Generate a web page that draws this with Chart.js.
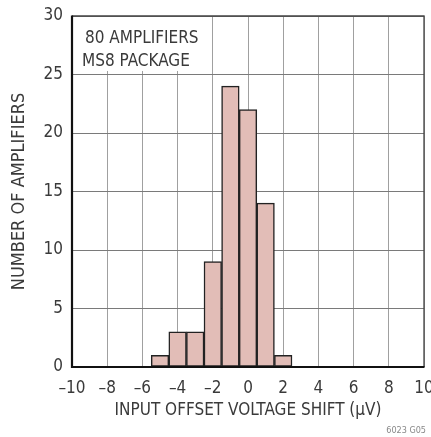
<!DOCTYPE html>
<html>
<head>
<meta charset="utf-8">
<script src="https://cdn.jsdelivr.net/npm/chart.js@4/dist/chart.umd.min.js"></script>
<style>
html,body{margin:0;padding:0;background:#fff;}
#wrap{width:431px;height:437px;position:relative;}
</style>
</head>
<body>
<div id="wrap"><canvas id="c" width="431" height="437"></canvas></div>
<script>
// Data
const binCenters = [-5, -4, -3, -2, -1, 0, 1, 2];
const counts = [1, 3, 3, 9, 24, 22, 14, 1];
const xTickValues = [-10, -8, -6, -4, -2, 0, 2, 4, 6, 8, 10];
const yTickValues = [0, 5, 10, 15, 20, 25, 30];
const annotationLines = ['80 AMPLIFIERS', 'MS8 PACKAGE'];
const xTitle = 'INPUT OFFSET VOLTAGE SHIFT (\u00B5V)';
const yTitle = 'NUMBER OF AMPLIFIERS';
const footnote = '6023 G05';

const FONT = '"DejaVu Sans Condensed", "Liberation Sans Narrow", sans-serif';
const TEXT = '#3a3a3a';

const points = binCenters.map((x, i) => ({x: x, y: counts[i]}));

const overlay = {
  id: 'overlay',
  beforeDatasetsDraw(chart) {
    const {ctx, scales: {x, y}} = chart;
    const l = x.getPixelForValue(-10) + 1.5;
    const r = x.getPixelForValue(-2.3);
    const t = y.getPixelForValue(30) + 1;
    const b = y.getPixelForValue(25.3);
    ctx.save();
    ctx.fillStyle = '#fff';
    ctx.fillRect(l, t, r - l, b - t);
    ctx.fillStyle = TEXT;
    ctx.font = '17px ' + FONT;
    ctx.textBaseline = 'alphabetic';
    ctx.textAlign = 'left';
    ctx.fillText(annotationLines[0], 85, 43);
    ctx.fillText(annotationLines[1], 82, 66);
    ctx.restore();
  },
  afterDraw(chart) {
    const {ctx, chartArea: a} = chart;
    ctx.save();
    ctx.strokeStyle = '#444';
    ctx.lineWidth = 1.3;
    ctx.beginPath();
    ctx.moveTo(a.left, a.top);
    ctx.lineTo(a.right, a.top);
    ctx.lineTo(a.right, a.bottom);
    ctx.stroke();
    ctx.strokeStyle = '#111';
    ctx.lineWidth = 2.2;
    ctx.beginPath();
    ctx.moveTo(a.left, a.top - 0.5);
    ctx.lineTo(a.left, a.bottom);
    ctx.lineTo(a.right + 0.5, a.bottom);
    ctx.stroke();
    ctx.fillStyle = '#888';
    ctx.font = '9px ' + FONT;
    ctx.textAlign = 'right';
    ctx.textBaseline = 'alphabetic';
    ctx.fillText(footnote, 426, 433);
    ctx.restore();
  }
};

new Chart(document.getElementById('c'), {
  type: 'bar',
  data: {
    datasets: [{
      data: points,
      backgroundColor: '#e2bdb7',
      borderColor: '#222',
      borderWidth: 1.5,
      borderSkipped: false,
      barPercentage: 1,
      categoryPercentage: 1
    }]
  },
  options: {
    responsive: false,
    animation: false,
    events: [],
    layout: {padding: {top: 16, right: 7, left: 0, bottom: 0}},
    plugins: {legend: {display: false}, tooltip: {enabled: false}},
    scales: {
      x: {
        type: 'linear',
        offset: false,
        min: -10, max: 10,
        afterBuildTicks(scale) { scale.ticks = xTickValues.map(v => ({value: v})); },
        afterFit(scale) { scale.height = 70; scale.paddingLeft = 0; scale.paddingRight = 0; },
        grid: {color: '#a0a0a0', lineWidth: 1, drawTicks: false, offset: false},
        border: {display: false},
        ticks: {
          padding: 11,
          maxRotation: 0,
          autoSkip: false,
          color: TEXT,
          font: {family: FONT, size: 17},
          callback: v => String(v).replace('-', '\u2013')
        },
        title: {
          display: true,
          text: xTitle,
          color: TEXT,
          font: {family: FONT, size: 17},
          padding: {top: 0, bottom: 16}
        }
      },
      y: {
        min: 0, max: 30,
        afterBuildTicks(scale) { scale.ticks = yTickValues.map(v => ({value: v})); },
        afterFit(scale) { scale.width = 72; scale.paddingTop = 0; scale.paddingBottom = 0; },
        grid: {color: '#7a7a7a', lineWidth: 1, drawTicks: false},
        border: {display: false},
        ticks: {
          padding: 9,
          color: TEXT,
          font: {family: FONT, size: 17}
        },
        title: {
          display: true,
          text: yTitle,
          color: TEXT,
          font: {family: FONT, size: 18},
          padding: {top: 9, bottom: 0}
        }
      }
    }
  },
  plugins: [overlay]
});
</script>
</body>
</html>
